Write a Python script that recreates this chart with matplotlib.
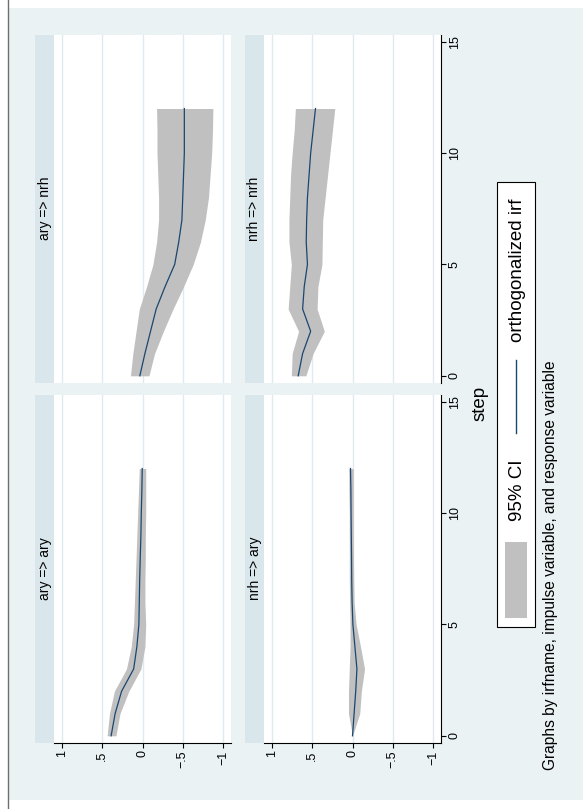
import numpy as np
import matplotlib
matplotlib.use('Agg')
import matplotlib.pyplot as plt
from matplotlib.patches import Rectangle
from matplotlib.lines import Line2D

plt.rcParams['font.family'] = ['Liberation Sans', 'DejaVu Sans']

# irf results, steps 0..12
steps = list(range(13))

ary_ary_irf = [0.39, 0.34, 0.26, 0.11, 0.07, 0.045, 0.04, 0.035, 0.028, 0.02, 0.015, 0.008, 0.003]
ary_ary_lo = [0.33, 0.28, 0.17, 0.02, -0.03, -0.04, -0.03, -0.03, -0.035, -0.035, -0.04, -0.04, -0.04]
ary_ary_hi = [0.44, 0.41, 0.35, 0.20, 0.14, 0.11, 0.10, 0.09, 0.08, 0.07, 0.06, 0.05, 0.04]

ary_nrh_irf = [0.033, -0.03, -0.10, -0.17, -0.28, -0.40, -0.45, -0.49, -0.50, -0.51, -0.52, -0.52, -0.52]
ary_nrh_lo = [-0.08, -0.15, -0.26, -0.38, -0.51, -0.63, -0.72, -0.78, -0.82, -0.84, -0.86, -0.87, -0.875]
ary_nrh_hi = [0.15, 0.12, 0.08, 0.04, -0.05, -0.13, -0.175, -0.20, -0.20, -0.19, -0.18, -0.18, -0.175]

nrh_ary_irf = [0.0, -0.02, -0.04, -0.055, -0.03, -0.005, 0.005, 0.01, 0.012, 0.015, 0.018, 0.02, 0.025]
nrh_ary_lo = [0.0, -0.09, -0.11, -0.15, -0.10, -0.045, -0.02, -0.015, -0.012, -0.01, -0.01, -0.01, -0.01]
nrh_ary_hi = [0.0, 0.05, 0.05, 0.04, 0.03, 0.03, 0.035, 0.04, 0.04, 0.04, 0.04, 0.045, 0.045]

nrh_nrh_irf = [0.675, 0.62, 0.52, 0.62, 0.60, 0.56, 0.575, 0.57, 0.56, 0.54, 0.52, 0.49, 0.46]
nrh_nrh_lo = [0.58, 0.49, 0.35, 0.44, 0.43, 0.38, 0.375, 0.37, 0.34, 0.31, 0.28, 0.25, 0.22]
nrh_nrh_hi = [0.76, 0.75, 0.67, 0.80, 0.78, 0.76, 0.79, 0.79, 0.78, 0.77, 0.75, 0.725, 0.71]

value_ticks = [1, 0.5, 0, -0.5, -1]
value_labels = ['1', '.5', '0', '\u2212.5', '\u22121']
step_ticks = [0, 5, 10, 15]

BG = '#EAF2F3'
STRIP = '#D9E6EB'
GRID = '#E0EAEE'
CI = '#C0C0C0'
LINE = '#1A476F'

W, H = 583, 809


def fx(px):
    return px / W


def fy(py):
    return 1 - py / H


fig = plt.figure(figsize=(W / 100, H / 100), dpi=100, facecolor='white')
fig.patches.append(Rectangle((fx(8), fy(800)), 1 - fx(8), fy(8) - fy(800),
                             transform=fig.transFigure, facecolor=BG,
                             edgecolor='none', zorder=-2))
fig.add_artist(Line2D([fx(7.5), fx(7.5)], [0, 1], color='#6e6e6e', lw=1))

# graph is laid out sideways: step runs up the page, response across
pw, ph = 177, 347.5
col_x = [54, 264]
row_y = [35, 395]

panels = [
    ('ary => nrh', ary_nrh_irf, ary_nrh_lo, ary_nrh_hi, 0, 0),
    ('ary => ary', ary_ary_irf, ary_ary_lo, ary_ary_hi, 0, 1),
    ('nrh => nrh', nrh_nrh_irf, nrh_nrh_lo, nrh_nrh_hi, 1, 0),
    ('nrh => ary', nrh_ary_irf, nrh_ary_lo, nrh_ary_hi, 1, 1),
]

for title, irf, lo, hi, col, row in panels:
    x0, y0 = col_x[col], row_y[row]
    ax = fig.add_axes([fx(x0), fy(y0 + ph), pw / W, ph / H])
    ax.set_zorder(1)
    ax.set_facecolor('white')
    ax.fill_betweenx(steps, lo, hi, color=CI, lw=0, zorder=2)
    ax.plot(irf, steps, color=LINE, lw=0.9, zorder=3)
    ax.set_xlim(1.1, -1.1)
    ax.set_ylim(-0.3, 15.3)
    ax.set_xticks(value_ticks)
    ax.set_xticklabels(value_labels)
    ax.set_yticks(step_ticks)
    ax.grid(axis='x', color=GRID, lw=1, zorder=1)
    ax.set_axisbelow(True)
    for s in ax.spines.values():
        s.set_visible(False)
    ax.tick_params(left=False, labelleft=False, bottom=False, labelbottom=False)
    if row == 1:
        ax.spines['bottom'].set_visible(True)
        ax.spines['bottom'].set_linewidth(0.8)
        ax.tick_params(axis='x', bottom=True, labelbottom=True, labelrotation=90,
                       length=3.6, width=0.8, labelsize=9, pad=2)
    if col == 1:
        ax.yaxis.tick_right()
        ax.spines['right'].set_visible(True)
        ax.spines['right'].set_linewidth(0.8)
        ax.tick_params(axis='y', right=True, labelright=True, labelrotation=90,
                       length=3.6, width=0.8, labelsize=9, pad=2)
        for lab in ax.get_yticklabels():
            lab.set_va('center')

    # panel header strip
    fig.patches.append(Rectangle((fx(x0 - 19), fy(y0 + ph)), 19 / W, ph / H,
                                 transform=fig.transFigure, facecolor=STRIP,
                                 edgecolor='none', zorder=-1))
    fig.text(fx(x0 - 9.5), fy(y0 + ph / 2), title, rotation=90, fontsize=10,
             ha='center', va='center')

fig.text(fx(480), fy(403), 'step', rotation=90, fontsize=13.5,
         ha='center', va='center')

# legend
fig.patches.append(Rectangle((fx(497), fy(627)), 38 / W, (627 - 182) / H,
                             transform=fig.transFigure, facecolor='white',
                             edgecolor='black', lw=0.8, zorder=1))
fig.patches.append(Rectangle((fx(505), fy(618)), 22 / W, (618 - 542) / H,
                             transform=fig.transFigure, facecolor=CI,
                             edgecolor='none', zorder=2))
fig.text(fx(517), fy(490), '95% CI', rotation=90, fontsize=13.5,
         ha='center', va='center')
fig.add_artist(Line2D([fx(516), fx(516)], [fy(433), fy(360)], color=LINE, lw=1))
fig.text(fx(517), fy(270), 'orthogonalized irf', rotation=90, fontsize=13.5,
         ha='center', va='center')

fig.text(fx(551), fy(770), 'Graphs by irfname, impulse variable, and response variable',
         rotation=90, fontsize=11.2, ha='center', va='bottom')

fig.savefig('out.png', dpi=100, facecolor='white')
